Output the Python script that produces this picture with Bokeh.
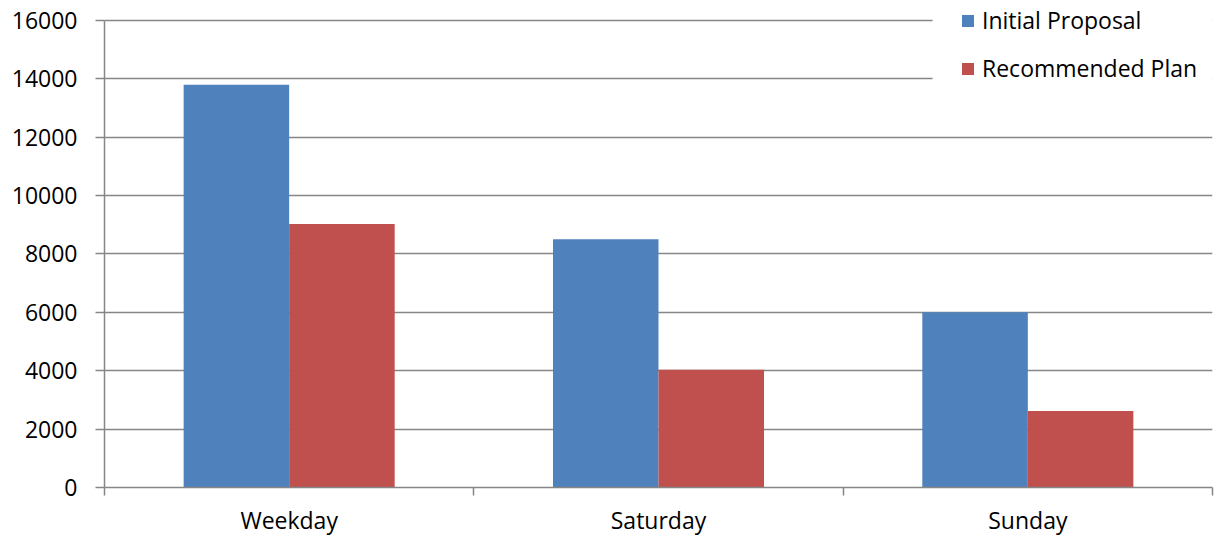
from bokeh.plotting import figure
from bokeh.models import FixedTicker, Range1d, ColumnDataSource
from bokeh.embed import file_html
from bokeh.resources import INLINE

# Service hours by day type
categories = ["Weekday", "Saturday", "Sunday"]
initial_proposal = [13800, 8500, 6000]
recommended_plan = [9030, 4030, 2620]
y_ticks = [0, 2000, 4000, 6000, 8000, 10000, 12000, 14000, 16000]

BLUE = "#4F81BD"
RED = "#C0504D"
GREY = "#868686"
FONT = "Open Sans"

bar_w = 1 / 3.5
centers = [i + 0.5 for i in range(len(categories))]

src = ColumnDataSource(dict(
    x_init=[c - bar_w / 2 for c in centers],
    x_rec=[c + bar_w / 2 for c in centers],
    init=initial_proposal,
    rec=recommended_plan,
))

# headroom above the top tick so the legend has space at the frame top
y_max = 16682

p = figure(width=1218, height=538, output_backend="svg", toolbar_location=None,
           x_range=Range1d(0, len(categories)), y_range=Range1d(0, y_max),
           min_border_left=104, min_border_right=6, min_border_top=0,
           min_border_bottom=49)
p.outline_line_color = None
p.background_fill_color = "white"
p.border_fill_color = "white"

p.vbar(x="x_init", top="init", width=bar_w, source=src, fill_color=BLUE,
       line_color=None, legend_label="Initial Proposal")
p.vbar(x="x_rec", top="rec", width=bar_w, source=src, fill_color=RED,
       line_color=None, legend_label="Recommended Plan")

# white panel behind the legend, hiding the gridlines there
p.quad(left=2.242, right=3.0, bottom=13300, top=y_max,
       fill_color="white", line_color=None)

# y axis
p.yaxis.ticker = FixedTicker(ticks=y_ticks)
p.yaxis.bounds = (0, 16000)
p.yaxis.axis_line_color = GREY
p.yaxis.axis_line_width = 1.5
p.yaxis.major_tick_line_color = GREY
p.yaxis.major_tick_line_width = 1.5
p.yaxis.major_tick_out = 9
p.yaxis.major_tick_in = 0
p.yaxis.minor_tick_line_color = None
p.yaxis.major_label_standoff = 18
p.yaxis.major_label_text_font = FONT
p.yaxis.major_label_text_font_size = "23px"
p.yaxis.major_label_text_color = "#000000"

# x axis: labels at group centers, ticks at group boundaries
p.xaxis.ticker = FixedTicker(ticks=centers,
                             minor_ticks=list(range(len(categories) + 1)))
p.xaxis.major_label_overrides = {c: name for c, name in zip(centers, categories)}
p.xaxis.axis_line_color = GREY
p.xaxis.axis_line_width = 1.5
p.xaxis.major_tick_line_color = None
p.xaxis.major_tick_out = 0
p.xaxis.major_tick_in = 0
p.xaxis.minor_tick_line_color = GREY
p.xaxis.minor_tick_line_width = 1.5
p.xaxis.minor_tick_out = 8
p.xaxis.minor_tick_in = 0
p.xaxis.major_label_standoff = 8
p.xaxis.major_label_text_font = FONT
p.xaxis.major_label_text_font_size = "23px"
p.xaxis.major_label_text_color = "#000000"

p.xgrid.grid_line_color = None
p.ygrid.ticker = FixedTicker(ticks=y_ticks)
p.ygrid.grid_line_color = GREY
p.ygrid.grid_line_width = 1.5

leg = p.legend[0]
leg.location = (856, 403)
leg.border_line_color = None
leg.background_fill_alpha = 0
leg.padding = 0
leg.margin = 0
leg.spacing = 16
leg.glyph_width = 15
leg.glyph_height = 15
leg.label_height = 28
leg.label_standoff = 7
leg.label_text_font = FONT
leg.label_text_font_size = "23px"
leg.label_text_color = "#000000"

open("out.html", "w").write(file_html(p, INLINE))
